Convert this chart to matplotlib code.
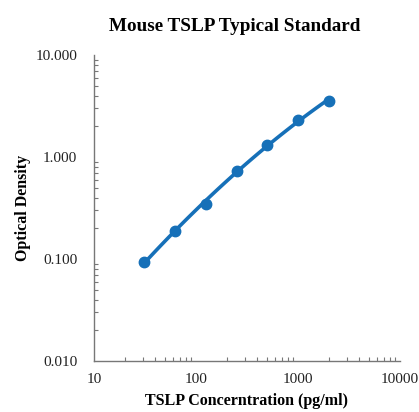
import matplotlib.pyplot as plt
import numpy as np
from matplotlib.ticker import LogLocator, FixedLocator, FixedFormatter, NullFormatter

# dados da curva padrão
concentracao = [31.25, 62.5, 125, 250, 500, 1000, 2000]
densidade_optica = [0.094, 0.189, 0.346, 0.734, 1.31, 2.31, 3.56]

x_ticks = [10, 100, 1000, 10000]
x_labels = ['10', '100', '1000', '10000']
y_ticks = [0.01, 0.1, 1, 10]
y_labels = ['0.010', '0.100', '1.000', '10.000']

cor = '#1670b8'

plt.rcParams['font.family'] = ['Liberation Serif', 'DejaVu Serif']

fig = plt.figure(figsize=(4.19, 4.12), dpi=100)
ax = fig.add_axes([0.2243, 0.1238, 0.7303, 0.7427])

# curva ajustada (polinômio de 2º grau no espaço log-log)
lx = np.log10(concentracao)
coef = np.polyfit(lx, np.log10(densidade_optica), 2)
xs = np.linspace(lx[0], lx[-1], 100)
ax.plot(10 ** xs, 10 ** np.polyval(coef, xs), color=cor, linewidth=2.6, solid_capstyle='round')
ax.plot(concentracao, densidade_optica, 'o', color=cor, markersize=7.5)

ax.set_xscale('log')
ax.set_yscale('log')
ax.set_xlim(10, 10000)
ax.set_ylim(0.01, 10)

ax.xaxis.set_major_locator(FixedLocator(x_ticks))
ax.xaxis.set_major_formatter(FixedFormatter(x_labels))
ax.yaxis.set_major_locator(FixedLocator(y_ticks))
ax.yaxis.set_major_formatter(FixedFormatter(y_labels))
ax.xaxis.set_minor_locator(LogLocator(base=10, subs=np.arange(2, 10)))
ax.yaxis.set_minor_locator(LogLocator(base=10, subs=np.arange(2, 10)))
ax.xaxis.set_minor_formatter(NullFormatter())
ax.yaxis.set_minor_formatter(NullFormatter())

ax.tick_params(which='major', direction='in', length=0, labelsize=11, colors='#222222')
ax.tick_params(which='minor', direction='in', length=3, color='#777777', width=0.8)
ax.tick_params(axis='y', which='major', pad=12)
ax.tick_params(axis='x', which='major', pad=9)

for lado in ['top', 'right']:
    ax.spines[lado].set_visible(False)
for lado in ['left', 'bottom']:
    ax.spines[lado].set_color('#777777')
    ax.spines[lado].set_linewidth(1.0)

fig.text(0.561, 0.935, 'Mouse TSLP Typical Standard', ha='center', va='center',
         fontsize=13.8, fontweight='bold')
ax.set_xlabel('TSLP Concerntration (pg/ml)', fontsize=11.5, fontweight='bold', labelpad=5)
ax.set_ylabel('Optical Density', fontsize=11.5, fontweight='bold', labelpad=3)

plt.savefig('out.png', dpi=100)
plt.close()
